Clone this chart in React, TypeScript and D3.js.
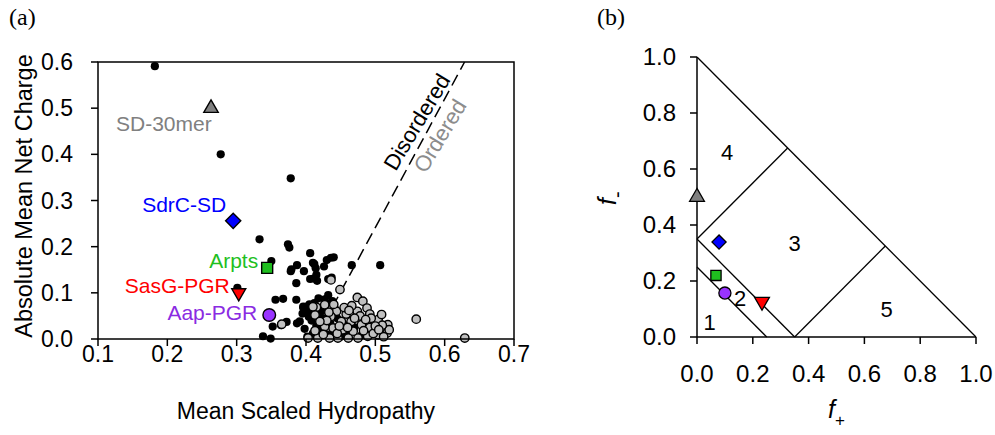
import React from "react";
import * as d3 from "d3";

// ---------- Panel (a) data: [mean scaled hydropathy, |mean net charge|] ----------
const disorderedPts: [number, number][] = [
  [0.182, 0.591], [0.277, 0.400], [0.378, 0.348], [0.333, 0.216], [0.374, 0.205],
  [0.376, 0.198], [0.406, 0.186], [0.350, 0.169], [0.387, 0.160], [0.412, 0.162],
  [0.410, 0.165], [0.430, 0.171], [0.440, 0.177], [0.436, 0.176], [0.466, 0.160],
  [0.507, 0.160], [0.379, 0.151], [0.378, 0.147], [0.397, 0.147], [0.414, 0.153],
  [0.426, 0.157], [0.301, 0.111], [0.386, 0.121], [0.406, 0.130], [0.416, 0.126],
  [0.411, 0.131], [0.415, 0.139], [0.432, 0.130], [0.437, 0.133], [0.356, 0.085],
  [0.367, 0.087], [0.386, 0.085], [0.396, 0.068], [0.418, 0.088], [0.427, 0.086],
  [0.429, 0.077], [0.396, 0.070], [0.401, 0.070], [0.352, 0.027], [0.372, 0.037],
  [0.387, 0.034], [0.364, 0.030], [0.338, 0.006], [0.349, 0.001], [0.391, 0.038],
  [0.400, 0.060], [0.405, 0.075], [0.410, 0.060], [0.404, 0.048], [0.412, 0.078],
  [0.418, 0.065], [0.420, 0.055], [0.425, 0.045], [0.408, 0.040], [0.415, 0.030],
  [0.422, 0.020], [0.410, 0.012], [0.430, 0.010], [0.435, 0.035], [0.440, 0.015],
  [0.428, 0.062], [0.445, 0.045], [0.450, 0.005], [0.455, 0.030], [0.398, 0.022],
  [0.402, 0.005], [0.418, 0.005], [0.460, 0.012], [0.470, 0.025], [0.480, 0.008],
  [0.395, 0.055], [0.432, 0.095], [0.438, 0.082], [0.442, 0.065],
];

const orderedPts: [number, number][] = [
  [0.449, 0.107], [0.474, 0.090], [0.482, 0.082], [0.488, 0.067], [0.492, 0.054],
  [0.504, 0.042], [0.518, 0.031], [0.517, 0.013], [0.504, 0.009], [0.489, 0.006],
  [0.475, 0.002], [0.461, 0.002], [0.446, 0.002], [0.434, 0.002], [0.417, 0.002],
  [0.403, 0.002], [0.415, 0.069], [0.427, 0.074], [0.444, 0.060], [0.458, 0.054],
  [0.474, 0.060], [0.478, 0.050], [0.451, 0.038], [0.465, 0.038], [0.480, 0.031],
  [0.492, 0.025], [0.439, 0.024], [0.427, 0.027], [0.413, 0.018], [0.453, 0.020],
  [0.468, 0.017], [0.436, 0.049], [0.494, 0.045], [0.509, 0.053], [0.559, 0.043],
  [0.629, 0.002], [0.413, 0.052], [0.365, 0.032], [0.436, 0.128], [0.410, 0.070],
  [0.520, 0.020], [0.510, 0.030], [0.497, 0.012], [0.483, 0.018], [0.460, 0.025],
  [0.445, 0.012], [0.430, 0.040], [0.420, 0.038], [0.455, 0.068], [0.466, 0.072],
  [0.500, 0.028], [0.512, 0.005], [0.425, 0.010], [0.440, 0.075], [0.470, 0.045],
  [0.486, 0.042], [0.462, 0.062], [0.448, 0.028], [0.505, 0.020], [0.433, 0.058],
];

// Highlighted proteins
const proteinNames = ["SD-30mer", "SdrC-SD", "Arpts", "SasG-PGR", "Aap-PGR"];
const proteinH = [0.263, 0.295, 0.344, 0.303, 0.347];
const proteinR = [0.500, 0.256, 0.154, 0.100, 0.052];
const proteinFplus = [0.0, 0.079, 0.068, 0.233, 0.10];
const proteinFminus = [0.5, 0.339, 0.22, 0.126, 0.157];
const proteinColors = ["#808080", "#0000ff", "#1fbf1f", "#ff0000", "#9933ff"];
const proteinTextColors = ["#808080", "#0000ff", "#1fbf1f", "#ff0000", "#8a2be2"];
const proteinShapes = ["triangle", "diamond", "square", "triangleDown", "circle"];

// Uversky boundary: R = 2.785 H - 1.151
const boundarySlope = 2.785;
const boundaryIntercept = -1.151;

const xTicksA = [0.1, 0.2, 0.3, 0.4, 0.5, 0.6, 0.7];
const yTicksA = [0.0, 0.1, 0.2, 0.3, 0.4, 0.5, 0.6];
const ticksB = [0.0, 0.2, 0.4, 0.6, 0.8, 1.0];

// Das-Pappu diagram of states: region boundaries [f+, f-] pairs
const regionLines: [number, number][][] = [
  [[0, 1], [1, 0]],
  [[0, 0.25], [0.25, 0]],
  [[0, 0.35], [0.35, 0]],
  [[0, 0.35], [0.325, 0.675]],
  [[0.35, 0], [0.675, 0.325]],
];
const regionLabels = ["1", "2", "3", "4", "5"];
const regionLabelFplus = [0.045, 0.155, 0.35, 0.108, 0.68];
const regionLabelFminus = [0.055, 0.14, 0.335, 0.66, 0.10];

const FONT = "'Liberation Sans', Arial, Helvetica, sans-serif";

function markerPath(shape: string, size: number): { d: string; rot: number } {
  switch (shape) {
    case "triangle":
      return { d: d3.symbol(d3.symbolTriangle, size)()!, rot: 0 };
    case "triangleDown":
      return { d: d3.symbol(d3.symbolTriangle, size)()!, rot: 180 };
    case "diamond":
      return { d: d3.symbol(d3.symbolSquare, size)()!, rot: 45 };
    case "square":
      return { d: d3.symbol(d3.symbolSquare, size)()!, rot: 0 };
    default:
      return { d: d3.symbol(d3.symbolCircle, size)()!, rot: 0 };
  }
}

const sizesA: Record<string, number> = { triangle: 90, diamond: 115, square: 121, triangleDown: 85, circle: 125 };
const sizesB: Record<string, number> = { triangle: 95, diamond: 100, square: 105, triangleDown: 95, circle: 115 };

export default function App() {
  const xA = d3.scaleLinear().domain([0.1, 0.7]).range([98, 514]);
  const yA = d3.scaleLinear().domain([0, 0.6]).range([339, 62]);
  const xB = d3.scaleLinear().domain([0, 1]).range([697, 976]);
  const yB = d3.scaleLinear().domain([0, 1]).range([337, 57]);

  // boundary line endpoints
  const hAt = (r: number) => (r - boundaryIntercept) / boundarySlope;
  const bx0 = xA(hAt(0)), by0 = yA(0), bx1 = xA(hAt(0.6)), by1 = yA(0.6);
  const textAngle = -59;
  const lblR = 0.455;
  const lx = xA(hAt(lblR)), ly = yA(lblR);

  const labelPos = [
    { x: 116, y: 131, anchor: "start" },
    { x: -7, y: 212, anchor: "end" },
    { x: -9, y: 268, anchor: "end" },
    { x: -9, y: 293, anchor: "end" },
    { x: -12, y: 320, anchor: "end" },
  ];

  const lineGen = d3.line<[number, number]>().x((d) => xB(d[0])).y((d) => yB(d[1]));

  return (
    <svg width={995} height={435} style={{ position: "absolute", left: 0, top: 0, background: "#fff" }} fontFamily={FONT}>
      <rect width={995} height={435} fill="#fff" />
      {/* ---------------- Panel (a) ---------------- */}
      <text x={9} y={25} fontFamily="'Liberation Serif', 'Times New Roman', serif" fontSize={24}>(a)</text>

      {/* boundary dashed line */}
      <line x1={bx0} y1={by0} x2={bx1} y2={by1} stroke="#000" strokeWidth={1.5} strokeDasharray="12,6" />
      <g transform={`translate(${lx},${ly}) rotate(${textAngle})`}>
        <text x={0} y={-6} textAnchor="middle" fontSize={22} fill="#000">Disordered</text>
        <text x={0} y={21} textAnchor="middle" fontSize={22} fill="#8c8c8c">Ordered</text>
      </g>

      {/* points */}
      {disorderedPts.map((p, i) => (
        <circle key={"d" + i} cx={xA(p[0])} cy={yA(p[1])} r={4.1} fill="#000" />
      ))}
      {orderedPts.map((p, i) => (
        <circle key={"o" + i} cx={xA(p[0])} cy={yA(p[1])} r={4.2} fill="#c0c0c0" stroke="#000" strokeWidth={1.4} />
      ))}

      {/* highlighted proteins */}
      {proteinNames.map((n, i) => {
        const m = markerPath(proteinShapes[i], sizesA[proteinShapes[i]]);
        const cx = xA(proteinH[i]);
        const cy = yA(proteinR[i]);
        const lp = labelPos[i];
        return (
          <g key={"p" + i}>
            <path d={m.d} transform={`translate(${cx},${cy}) rotate(${m.rot})`} fill={proteinColors[i]} stroke="#000" strokeWidth={1.4} />
            <text x={lp.anchor === "start" ? lp.x : cx + lp.x} y={lp.y} textAnchor={lp.anchor} fontSize={21} fill={proteinTextColors[i]}>{n}</text>
          </g>
        );
      })}

      {/* axes box */}
      <rect x={98} y={62} width={416} height={277} fill="none" stroke="#000" strokeWidth={1.5} />
      {xTicksA.map((t) => (
        <g key={"xa" + t}>
          <line x1={xA(t)} x2={xA(t)} y1={339} y2={346} stroke="#000" strokeWidth={1.5} />
          <text x={xA(t)} y={362} textAnchor="middle" fontSize={23}>{t.toFixed(1)}</text>
        </g>
      ))}
      {yTicksA.map((t) => (
        <g key={"ya" + t}>
          <line x1={91} x2={98} y1={yA(t)} y2={yA(t)} stroke="#000" strokeWidth={1.5} />
          <text x={73} y={yA(t) + 8} textAnchor="end" fontSize={23}>{t.toFixed(1)}</text>
        </g>
      ))}
      <text x={306} y={419} textAnchor="middle" fontSize={23}>Mean Scaled Hydropathy</text>
      <text transform="translate(32,196) rotate(-90)" textAnchor="middle" fontSize={23.5}>Absolute Mean Net Charge</text>

      {/* ---------------- Panel (b) ---------------- */}
      <text x={597} y={25} fontFamily="'Liberation Serif', 'Times New Roman', serif" fontSize={24}>(b)</text>

      {regionLines.map((l, i) => (
        <path key={"rl" + i} d={lineGen(l)!} fill="none" stroke="#000" strokeWidth={1.3} />
      ))}
      {regionLabels.map((r, i) => (
        <text key={"rlab" + i} x={xB(regionLabelFplus[i])} y={yB(regionLabelFminus[i]) + 8} textAnchor="middle" fontSize={22}>{r}</text>
      ))}

      {/* axes */}
      <line x1={697} x2={697} y1={57} y2={337} stroke="#000" strokeWidth={1.5} />
      <line x1={697} x2={976} y1={337} y2={337} stroke="#000" strokeWidth={1.5} />
      {ticksB.map((t) => (
        <g key={"xb" + t}>
          <line x1={xB(t)} x2={xB(t)} y1={337} y2={344} stroke="#000" strokeWidth={1.5} />
          <text x={xB(t)} y={382} textAnchor="middle" fontSize={24}>{t.toFixed(1)}</text>
        </g>
      ))}
      {ticksB.map((t) => (
        <g key={"yb" + t}>
          <line x1={690} x2={697} y1={yB(t)} y2={yB(t)} stroke="#000" strokeWidth={1.5} />
          <text x={676} y={yB(t) + 8} textAnchor="end" fontSize={24}>{t.toFixed(1)}</text>
        </g>
      ))}

      {/* markers in (b) */}
      {proteinNames.map((n, i) => {
        const m = markerPath(proteinShapes[i], sizesB[proteinShapes[i]]);
        const cx = xB(proteinFplus[i]);
        const cy = yB(proteinFminus[i]);
        return (
          <path key={"pb" + i} d={m.d} transform={`translate(${cx},${cy}) rotate(${m.rot})`} fill={proteinColors[i]} stroke="#000" strokeWidth={1.3} />
        );
      })}

      {/* axis labels */}
      <text x={828} y={418} fontSize={25} fontStyle="italic">f<tspan fontSize={17} dy={8} fontStyle="normal">+</tspan></text>
      <text transform="translate(616,205) rotate(-90)" fontSize={25} fontStyle="italic">f<tspan fontSize={20} dy={8} fontStyle="normal">-</tspan></text>
    </svg>
  );
}
